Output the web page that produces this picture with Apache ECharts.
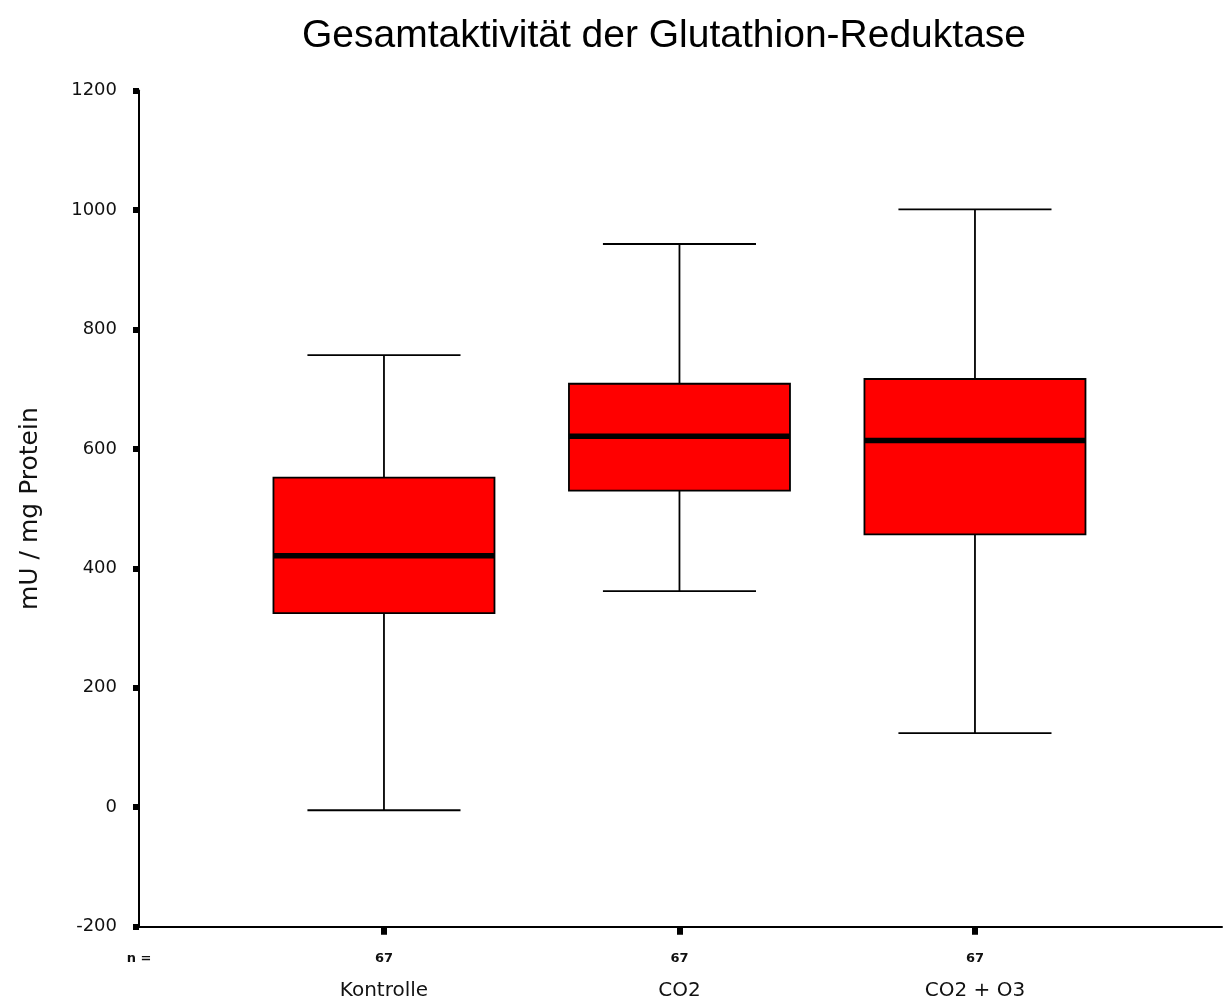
<!DOCTYPE html>
<html><head><meta charset="utf-8">
<script src="https://cdn.jsdelivr.net/npm/echarts@6/dist/echarts.min.js"></script>
<style>html,body{margin:0;padding:0;background:#fff}#c{width:1223px;height:998px}</style>
</head><body><div id="c"></div>
<script>
// ---- data ----
const categories = ['Kontrolle', 'CO2', 'CO2 + O3'];
const nCounts = [67, 67, 67];
const whiskerLow = [-5, 362, 124];
const q1 = [325, 530, 457];
const median = [421, 621, 614];
const q3 = [552, 709, 717];
const whiskerHigh = [757, 943, 1001];
const yMin = -200, yMax = 1200, yStep = 200;

const boxData = categories.map((c, i) => [i + 1, whiskerLow[i], q1[i], median[i], q3[i], whiskerHigh[i]]);

const xMin = 0.171, xMax = 3.836;
const boxHalf = 0.374, capHalf = 0.259;

const chart = echarts.init(document.getElementById('c'), null, {renderer: 'canvas'});
chart.setOption({
  backgroundColor: '#fff',
  animation: false,
  title: {
    text: 'Gesamtaktivität der Glutathion-Reduktase',
    left: 659, textAlign: 'center', top: 12,
    textStyle: {fontFamily: 'Liberation Sans, Arial, sans-serif', fontSize: 39, fontWeight: 'normal', color: '#000'}
  },
  grid: {left: 139, right: 1, top: 90.5, bottom: 71.3, containLabel: false, outerBoundsMode: 'none'},
  xAxis: {
    type: 'value', min: xMin, max: xMax,
    splitLine: {show: false},
    axisLine: {show: true, onZero: false, lineStyle: {color: '#000', width: 2}},
    axisTick: {show: true, customValues: [1, 2, 3], length: 8, lineStyle: {color: '#000', width: 6}},
    axisLabel: {
      show: true, customValues: [xMin, 1, 2, 3], margin: 18, showMinLabel: true, showMaxLabel: true,
      formatter: function (v) {
        const i = Math.round(v) - 1;
        if (Math.abs(v - Math.round(v)) > 0.01 || i < 0 || i > 2) return '{n|n =}\n{c| }';
        return '{n|' + nCounts[i] + '}\n{c|' + categories[i] + '}';
      },
      rich: {
        n: {fontFamily: 'DejaVu Sans, sans-serif', fontSize: 13, fontWeight: 'bold', color: '#111', lineHeight: 28},
        c: {fontFamily: 'DejaVu Sans, sans-serif', fontSize: 20, color: '#111', lineHeight: 36}
      }
    }
  },
  yAxis: {
    type: 'value', min: yMin, max: yMax, interval: yStep,
    splitLine: {show: false},
    axisLine: {show: true, onZero: false, lineStyle: {color: '#000', width: 2}},
    axisTick: {show: true, length: 6, lineStyle: {color: '#000', width: 6}},
    axisLabel: {margin: 22, fontFamily: 'DejaVu Sans, sans-serif', fontSize: 18, color: '#111',
      formatter: function (v) { return String(v); }},
    name: 'mU / mg Protein', nameLocation: 'middle', nameGap: 96,
    nameTextStyle: {fontFamily: 'DejaVu Sans, sans-serif', fontSize: 25, color: '#111'}
  },
  series: [{
    type: 'custom',
    data: boxData,
    encode: {x: 0, y: [1, 2, 3, 4, 5]},
    renderItem: function (params, api) {
      const x = api.value(0);
      const lo = api.coord([x, api.value(1)]);
      const b1 = api.coord([x, api.value(2)]);
      const md = api.coord([x, api.value(3)]);
      const b3 = api.coord([x, api.value(4)]);
      const hi = api.coord([x, api.value(5)]);
      const L = api.coord([x - boxHalf, 0])[0];
      const R = api.coord([x + boxHalf, 0])[0];
      const cL = api.coord([x - capHalf, 0])[0];
      const cR = api.coord([x + capHalf, 0])[0];
      const cx = lo[0];
      const ls = {stroke: '#000', lineWidth: 1.8};
      return {
        type: 'group',
        children: [
          {type: 'line', shape: {x1: cx, y1: lo[1], x2: cx, y2: b1[1]}, style: ls},
          {type: 'line', shape: {x1: cx, y1: b3[1], x2: cx, y2: hi[1]}, style: ls},
          {type: 'line', shape: {x1: cL, y1: lo[1], x2: cR, y2: lo[1]}, style: ls},
          {type: 'line', shape: {x1: cL, y1: hi[1], x2: cR, y2: hi[1]}, style: ls},
          {type: 'rect', shape: {x: L, y: b3[1], width: R - L, height: b1[1] - b3[1]},
            style: {fill: '#ff0000', stroke: '#000', lineWidth: 1.8}},
          {type: 'line', shape: {x1: L, y1: md[1], x2: R, y2: md[1]}, style: {stroke: '#000', lineWidth: 5.5}}
        ]
      };
    }
  }]
});
</script></body></html>
